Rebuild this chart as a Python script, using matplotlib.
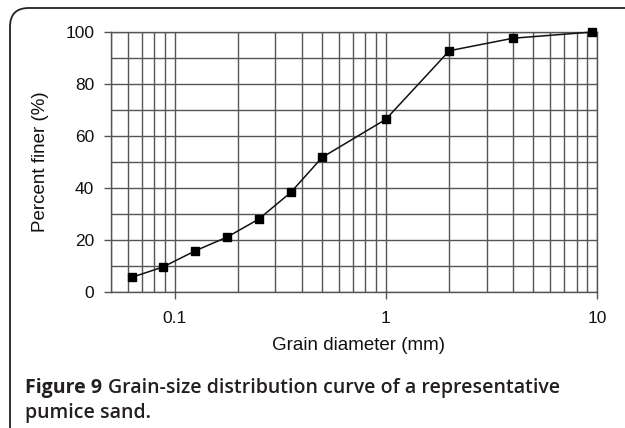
import matplotlib
matplotlib.use('Agg')
import matplotlib.pyplot as plt
from matplotlib.patches import FancyBboxPatch
from matplotlib.ticker import LogLocator, NullFormatter, FixedLocator, FixedFormatter

# Datos: curva granulometrica
diam_mm = [0.063, 0.088, 0.125, 0.178, 0.25, 0.355, 0.5, 1.0, 2.0, 4.0, 9.5]
pct_finer = [5.7, 9.6, 15.8, 21.2, 28.0, 38.3, 51.8, 66.4, 92.8, 97.6, 100.0]

x_ticks = [0.1, 1, 10]
x_ticklabels = ['0.1', '1', '10']
y_ticks = [0, 20, 40, 60, 80, 100]

W, H = 625, 428
fig = plt.figure(figsize=(W / 100, H / 100), dpi=100)
fig.patch.set_facecolor('white')

# Marco redondeado de la figura (lado derecho fuera de la imagen)
box = FancyBboxPatch((10 / W, -20 / H), 700 / W, (H - 8 + 20) / H,
                     boxstyle='round,pad=0,rounding_size=0.03',
                     transform=fig.transFigure, fill=False,
                     edgecolor='#222222', linewidth=1.3, mutation_aspect=W / H)
fig.patches.append(box)

ax = fig.add_axes([111 / W, 1 - 292 / H, (597 - 111) / W, (292 - 32) / H])
ax.set_xscale('log')
ax.set_xlim(0.05, 10)
ax.set_ylim(0, 100)

grid_col = '#555555'
ax.xaxis.set_major_locator(FixedLocator(x_ticks))
ax.xaxis.set_major_formatter(FixedFormatter(x_ticklabels))
ax.xaxis.set_minor_locator(LogLocator(base=10, subs=range(2, 10)))
ax.xaxis.set_minor_formatter(NullFormatter())
ax.set_yticks(y_ticks)
ax.set_yticks(range(10, 100, 20), minor=True)

ax.grid(True, which='both', axis='both', color=grid_col, linewidth=1.0)
ax.set_axisbelow(True)
ax.tick_params(which='major', length=5, width=1.0, color=grid_col,
               labelsize=12.5, pad=7, labelcolor='#111111')
ax.tick_params(axis='x', which='major', pad=9)
ax.tick_params(which='minor', length=0)
for lbl in ax.get_xticklabels() + ax.get_yticklabels():
    lbl.set_family('Liberation Sans')
for sp in ax.spines.values():
    sp.set_color(grid_col)
    sp.set_linewidth(1.0)

ax.plot(diam_mm, pct_finer, color='#111111', linewidth=1.1, marker='s',
        markersize=6, markerfacecolor='black', markeredgecolor='black',
        clip_on=False, zorder=5)

ax.set_xlabel('Grain diameter (mm)', fontsize=13.5, family='Liberation Sans',
              color='#111111')
ax.set_ylabel('Percent finer (%)', fontsize=13.5, family='Liberation Sans',
              color='#111111')
ax.xaxis.set_label_coords((359 - 111) / (597 - 111), (292 - 337) / 260)
ax.yaxis.set_label_coords((49 - 111) / (597 - 111), 0.5)

# Pie de figura
cap_kw = dict(fontsize=14, family='Open Sans', color='#231f20', va='baseline')
t1 = fig.text(25 / W, 1 - 393 / H, 'Figure 9', fontweight='bold', **cap_kw)
fig.canvas.draw()
bb = t1.get_window_extent()
fig.text((bb.x1 + 6) / W, 1 - 393 / H,
         'Grain-size distribution curve of a representative',
         fontweight='semibold', **cap_kw)
fig.text(25 / W, 1 - 418 / H, 'pumice sand.', fontweight='semibold', **cap_kw)

fig.savefig('out.png', dpi=100)
